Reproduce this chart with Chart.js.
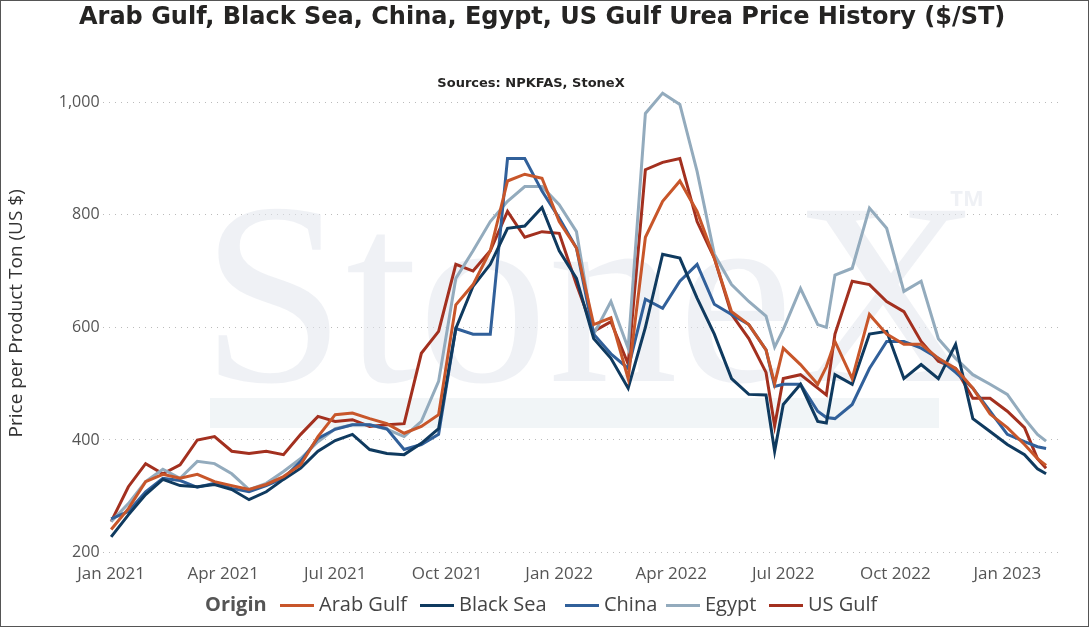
<!DOCTYPE html>
<html lang="en">
<head>
<meta charset="UTF-8">
<title>Urea Price History</title>
<script src="https://cdn.jsdelivr.net/npm/chart.js"></script>
<style>
  body { margin: 0; background: #fff; font-family: "Open Sans", Arial, sans-serif; }
  #wrap { position: relative; width: 1089px; height: 627px; box-sizing: border-box; border: 1px solid #555; overflow: hidden; }
  #title { position: absolute; top: 1px; left: 78px; white-space: nowrap; font: bold 24px "DejaVu Sans", sans-serif; color: #252423; }
  #legend { position: absolute; top: 589px; left: 0; width: 1089px; height: 30px; font: 20px "Open Sans", sans-serif; color: #444; }
  #legend span { position: absolute; top: 0; white-space: nowrap; }
  #legend i { position: absolute; top: 14px; width: 34px; height: 3px; }
  canvas { position: absolute; left: 0; top: 0; }
</style>
</head>
<body>
<div id="wrap">
  <canvas id="c" width="1087" height="625"></canvas>
  <div id="title">Arab Gulf, Black Sea, China, Egypt, US Gulf Urea Price History ($/ST)</div>
  <div id="legend"></div>
</div>
<script>
// week index: 0 = first week of Jan 2021
const weeks = [0,2,4,6,8,10,12,14,16,18,20,22,24,26,28,30,32,34,36,38,40,42,44,46,48,50,52,54,56,58,60,62,64,66,68,70,72,74,76,77,78,80,82,83,84,86,88,90,92,94,96,98,100,102,104,106,107.5,108.5];
const tickLabels = ['Jan 2021','Apr 2021','Jul 2021','Oct 2021','Jan 2022','Apr 2022','Jul 2022','Oct 2022','Jan 2023'];

const arabGulf = [241,278,326,339,332,339,326,319,312,321,335,356,406,445,448,438,429,412,424,445,640,676,736,860,872,865,788,741,605,617,509,760,824,860,806,723,628,605,560,500,563,534,499,530,575,509,623,588,570,570,545,527,492,446,422,392,367,355];
const blackSea = [228,267,303,330,319,317,321,312,294,308,330,350,380,399,410,383,376,374,394,420,598,673,712,776,780,813,736,687,580,545,492,600,730,723,652,588,509,481,480,380,463,499,433,430,516,499,588,593,509,534,509,570,438,415,392,374,349,340];
const china    = [260,273,308,332,328,316,323,314,308,319,332,362,403,419,427,427,420,383,392,410,598,588,588,900,900,842,794,741,588,553,527,650,634,682,712,641,623,605,560,495,499,499,451,440,438,463,527,575,575,563,545,520,492,451,410,397,388,385];
const egypt    = [255,287,326,348,332,362,358,340,312,323,344,367,397,420,427,427,419,406,433,504,687,736,788,824,850,850,818,770,588,646,563,980,1016,996,877,730,676,646,620,565,596,669,605,600,693,705,812,776,664,682,580,545,516,499,481,438,410,398];
const usGulf   = [255,317,358,340,356,400,406,380,376,380,374,410,442,433,436,424,427,429,554,593,712,700,736,806,760,770,767,676,593,610,535,880,893,900,788,723,623,580,520,425,509,516,492,480,588,682,676,646,628,575,540,527,474,474,451,422,367,350];

const series = [
  ['Arab Gulf', arabGulf, '#c8562a'],
  ['Black Sea', blackSea, '#0f3a5f'],
  ['China', china, '#31609a'],
  ['Egypt', egypt, '#93abbd'],
  ['US Gulf', usGulf, '#a3301f']
];
const legendX = [318, 458, 603, 704, 807];

const legend = document.getElementById('legend');
legend.innerHTML = '<span style="left:204px;font-weight:bold;color:#555">Origin</span>' + series.map((s, i) =>
  '<i style="left:' + (legendX[i] - 39) + 'px;background:' + s[2] + '"></i><span style="left:' + legendX[i] + 'px">' + s[0] + '</span>').join('');

const overlay = {
  id: 'overlay',
  beforeDatasetsDraw(chart) {
    const c = chart.ctx;
    c.save();
    c.fillStyle = 'rgba(225,230,236,0.55)';
    c.font = '260px "Liberation Serif", serif';
    c.textAlign = 'center';
    c.fillText('StoneX', 590, 380);
    c.font = 'bold 22px "Open Sans", sans-serif';
    c.fillText('TM', 966, 205);
    c.fillStyle = 'rgba(232,238,242,0.6)';
    c.fillRect(209, 397, 729, 30);
    c.restore();
  },
  afterDatasetsDraw(chart) {
    const c = chart.ctx;
    c.save();
    c.fillStyle = '#252423';
    c.font = 'bold 13px "DejaVu Sans", sans-serif';
    c.textAlign = 'center';
    c.fillText('Sources: NPKFAS, StoneX', 530, 86);
    c.restore();
  }
};

new Chart(document.getElementById('c'), {
  type: 'line',
  data: {
    datasets: series.map(s => ({
      label: s[0],
      data: weeks.map((w, i) => ({ x: w, y: s[1][i] })),
      borderColor: s[2],
      borderWidth: 3,
      pointRadius: 0,
      tension: 0,
      fill: false
    }))
  },
  options: {
    animation: false,
    responsive: false,
    layout: { padding: { top: 73, bottom: 39, left: 4, right: 29 } },
    plugins: { legend: { display: false }, tooltip: { enabled: false } },
    scales: {
      x: {
        type: 'linear', min: -1, max: 110,
        afterBuildTicks: ax => { ax.ticks = tickLabels.map((t, i) => ({ value: i * 13 })); },
        ticks: { callback: v => tickLabels[v / 13], color: '#555', font: { size: 17, family: 'Open Sans' }, maxRotation: 0, autoSkip: false },
        grid: { display: false },
        border: { display: false }
      },
      y: {
        min: 200, max: 1050,
        afterBuildTicks: ax => { ax.ticks = [200, 400, 600, 800, 1000].map(v => ({ value: v })); },
        ticks: { callback: v => v.toLocaleString('en-US'), color: '#555', font: { size: 16, family: 'Open Sans' } },
        grid: { color: '#bbb', lineWidth: 1, borderDash: [1, 5], drawTicks: false },
        border: { display: false, dash: [1, 5] },
        title: { display: true, text: 'Price per Product Ton (US $)', color: '#333', padding: { top: 0, bottom: 28 }, font: { size: 19, family: 'Open Sans' } }
      }
    }
  },
  plugins: [overlay]
});
</script>
</body>
</html>
